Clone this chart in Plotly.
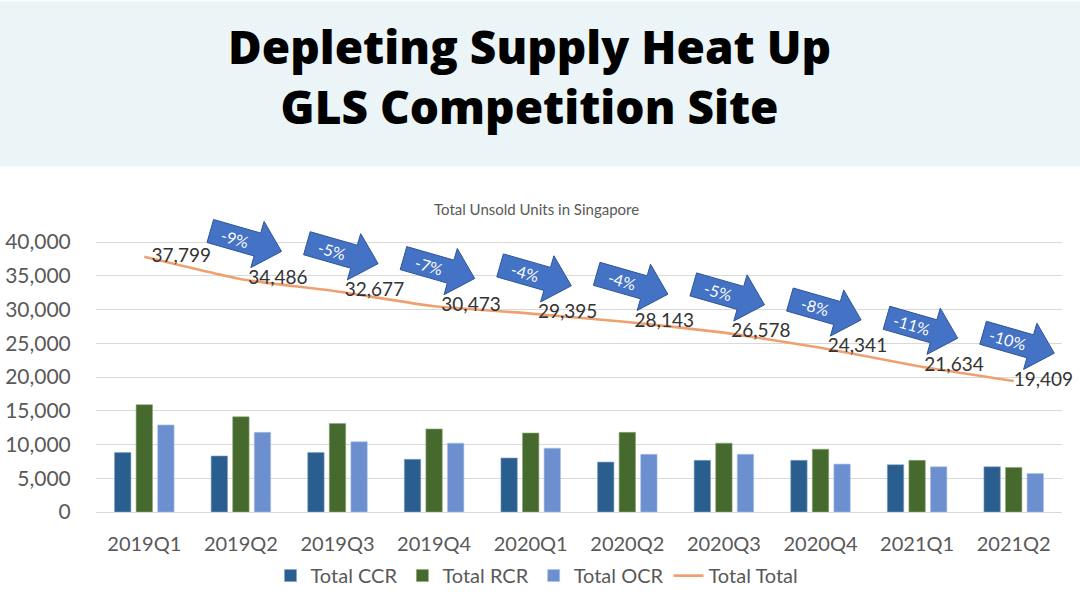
import math
import plotly.graph_objects as go

quarters = ["2019Q1", "2019Q2", "2019Q3", "2019Q4", "2020Q1",
            "2020Q2", "2020Q3", "2020Q4", "2021Q1", "2021Q2"]
ccr = [8800, 8300, 8800, 7800, 8000, 7400, 7650, 7650, 7000, 6700]
rcr = [15900, 14100, 13100, 12300, 11700, 11800, 10200, 9300, 7650, 6600]
ocr = [12900, 11800, 10400, 10200, 9450, 8550, 8550, 7100, 6700, 5700]
total = [37799, 34486, 32677, 30473, 29395, 28143, 26578, 24341, 21634, 19409]
changes = ["-9%", "-5%", "-7%", "-4%", "-4%", "-5%", "-8%", "-11%", "-10%"]
y_ticks = [0, 5000, 10000, 15000, 20000, 25000, 30000, 35000, 40000]
title_lines = ["Depleting Supply Heat Up", "GLS Competition Site"]

FONT = "Lato"
W, H = 1080, 607
L, R, T, B = 96, 18, 188, 93
pw, ph = W - L - R, H - T - B

labels = [(" \u2009" if i < len(total) - 1 else "") + f"{v:,}" for i, v in enumerate(total)]

fig = go.Figure()
fig.add_trace(go.Bar(x=quarters, y=ccr, name="Total CCR", marker_color="#2A5E8F",
                     marker_line=dict(color="#7FA3C8", width=0.6)))
fig.add_trace(go.Bar(x=quarters, y=rcr, name="Total RCR", marker_color="#46692E",
                     marker_line=dict(color="#8FA67A", width=0.6)))
fig.add_trace(go.Bar(x=quarters, y=ocr, name="Total OCR", marker_color="#6B8FCF",
                     marker_line=dict(color="#A9C0E6", width=0.6)))
fig.add_trace(go.Scatter(x=quarters, y=total, name="Total Total", mode="lines+text",
                         line=dict(color="#EFA070", width=2.6, shape="spline", smoothing=0.4),
                         text=labels, textposition="middle right",
                         textfont=dict(family=FONT, size=19, color="#333333"),
                         cliponaxis=False))

# arrow shapes (pixel-sized, anchored on the data points)
theta = math.radians(-16)
local = [(-37, 12), (12, 12), (12, 24), (37, 0), (12, -24), (12, -12), (-37, -12)]
dx, dy = 5, 38
def rot(px, py):
    return (px * math.cos(theta) - py * math.sin(theta) + dx,
            px * math.sin(theta) + py * math.cos(theta) + dy)
pts = [rot(a, b) for a, b in local]
path = "M " + " L ".join(f"{a:.1f},{b:.1f}" for a, b in pts) + " Z"
tx, ty = rot(-11, 0)

shapes = []
annotations = []
for i, lab in enumerate(changes):
    q = quarters[i + 1]
    v = total[i + 1]
    shapes.append(dict(type="path", xref="x", yref="y", xsizemode="pixel", ysizemode="pixel",
                       xanchor=q, yanchor=v, path=path,
                       fillcolor="#4472C4", line=dict(color="#2F5597", width=1), layer="above"))
    annotations.append(dict(x=q, y=v, xref="x", yref="y", text=lab, showarrow=False,
                            xshift=tx, yshift=ty, textangle=16,
                            font=dict(family=FONT, size=16, color="white")))

def px2paper_x(px):
    return (px - L) / pw
def px2paper_y(py):
    return (H - B - py) / ph

# header band
shapes.append(dict(type="rect", xref="paper", yref="paper",
                   x0=px2paper_x(0), x1=px2paper_x(W), y0=px2paper_y(166), y1=px2paper_y(0),
                   fillcolor="#EBF4F6", line=dict(width=0), layer="below"))

annotations.append(dict(xref="paper", yref="paper", x=px2paper_x(529), y=px2paper_y(75),
                        text="<br>".join(title_lines),
                        showarrow=False, xanchor="center", yanchor="middle",
                        font=dict(family="Open Sans", size=46, color="black", weight=800)))
annotations.append(dict(xref="paper", yref="paper", x=px2paper_x(536), y=px2paper_y(209),
                        text="Total Unsold Units in Singapore", showarrow=False,
                        xanchor="center", yanchor="middle",
                        font=dict(family=FONT, size=15, color="#595959")))

fig.update_layout(
    width=W, height=H,
    margin=dict(l=L, r=R, t=T, b=B),
    paper_bgcolor="white", plot_bgcolor="white",
    barmode="group", bargap=0.33, bargroupgap=0.24,
    showlegend=True,
    legend=dict(orientation="h", x=px2paper_x(537), xanchor="center",
                y=px2paper_y(578), yanchor="middle",
                font=dict(family=FONT, size=20, color="#595959"),
                itemwidth=30, traceorder="normal"),
    xaxis=dict(type="category", showgrid=False, showline=True, linecolor="#D9D9D9",
               linewidth=1, ticks="outside", ticklen=14, tickcolor="rgba(0,0,0,0)",
               automargin=False,
               tickfont=dict(family=FONT, size=20, color="#595959")),
    yaxis=dict(range=[0, 48000], tickvals=y_ticks, tickformat=",", showgrid=True,
               gridcolor="#D9D9D9", gridwidth=1, zeroline=False, showline=False,
               ticks="outside", ticklen=20, tickcolor="rgba(0,0,0,0)", automargin=False,
               tickfont=dict(family=FONT, size=21, color="#595959")),
    shapes=shapes, annotations=annotations,
)

fig.write_html("out.html", config={"displayModeBar": False},
               post_script="document.body.style.margin='0';document.body.style.overflow='hidden';")
